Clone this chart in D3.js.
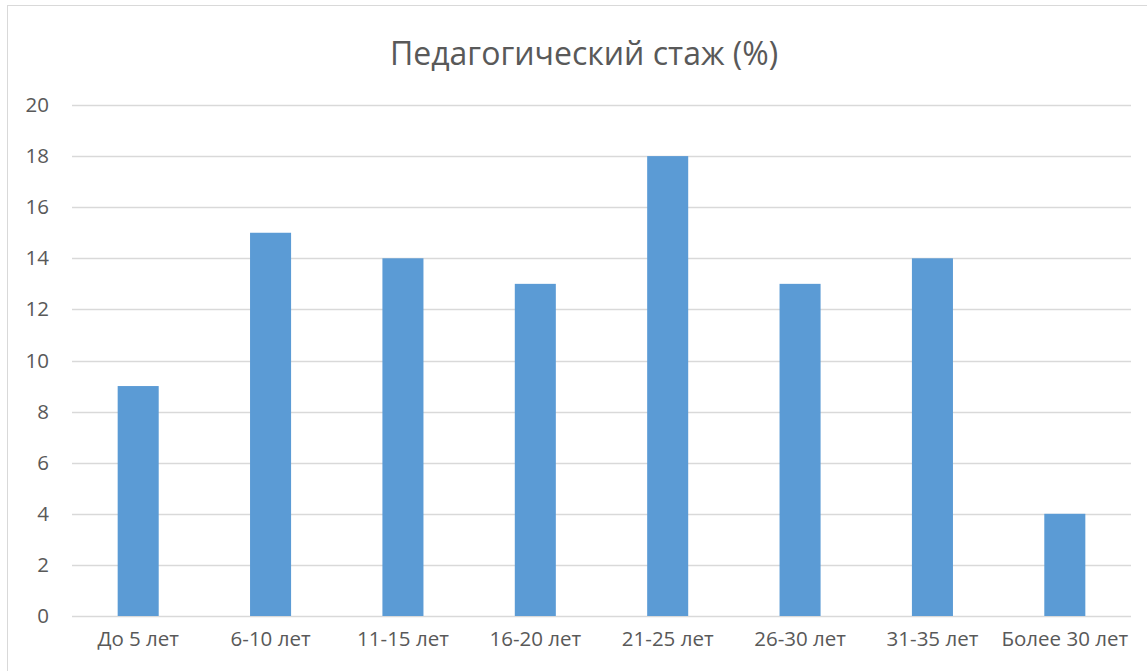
<!DOCTYPE html>
<html>
<head>
<meta charset="utf-8">
<script src="https://cdn.jsdelivr.net/npm/d3@7"></script>
<style>
  body { margin: 0; background: #fff; }
  svg { display: block; font-family: "Open Sans", "Liberation Sans", sans-serif; }
</style>
</head>
<body>
<svg id="chart" width="1147" height="671"></svg>
<script>
const categories = ['До 5 лет', '6-10 лет', '11-15 лет', '16-20 лет', '21-25 лет', '26-30 лет', '31-35 лет', 'Более 30 лет'];
const values = [9, 15, 14, 13, 18, 13, 14, 4];
const yTicks = [0, 2, 4, 6, 8, 10, 12, 14, 16, 18, 20];
const title = 'Педагогический стаж (%)';

const svg = d3.select('#chart');

// chart frame
svg.append('rect')
  .attr('x', 7.5).attr('y', 5.5)
  .attr('width', 1160).attr('height', 700)
  .attr('fill', '#fff')
  .attr('stroke', '#d9d9d9');

const x = d3.scaleBand()
  .domain(categories)
  .range([72, 1131])
  .paddingInner(0.69)
  .paddingOuter(0.345);

const y = d3.scaleLinear()
  .domain([0, 20])
  .range([616, 105]);

// gridlines
svg.append('g')
  .selectAll('line')
  .data(yTicks)
  .join('line')
  .attr('x1', 72).attr('x2', 1131)
  .attr('y1', d => Math.round(y(d)) + 0.5)
  .attr('y2', d => Math.round(y(d)) + 0.5)
  .attr('stroke', '#d9d9d9')
  .attr('stroke-width', 1.3);

// y axis labels
const yAxis = svg.append('g')
  .attr('transform', 'translate(49,0)')
  .call(d3.axisLeft(y).tickValues(yTicks).tickSize(0).tickPadding(0));
yAxis.select('.domain').remove();
yAxis.selectAll('text')
  .attr('fill', '#595959')
  .style('font-size', '20.5px')
  .style('font-family', '"Open Sans", "Liberation Sans", sans-serif');

// bars
svg.append('g')
  .selectAll('rect')
  .data(values)
  .join('rect')
  .attr('x', (d, i) => x(categories[i]))
  .attr('width', x.bandwidth())
  .attr('y', d => y(d))
  .attr('height', d => y(0) - y(d))
  .attr('fill', '#5b9bd5');

// x axis labels
const xAxis = svg.append('g')
  .attr('transform', 'translate(0,616)')
  .call(d3.axisBottom(x).tickSize(0).tickPadding(15));
xAxis.select('.domain').remove();
xAxis.selectAll('text')
  .attr('fill', '#595959')
  .style('font-size', '20.5px')
  .style('font-family', '"Open Sans", "Liberation Sans", sans-serif');

// title
svg.append('text')
  .attr('x', 584)
  .attr('y', 65)
  .attr('text-anchor', 'middle')
  .attr('fill', '#595959')
  .style('font-size', '32px')
  .text(title);
</script>
</body>
</html>
